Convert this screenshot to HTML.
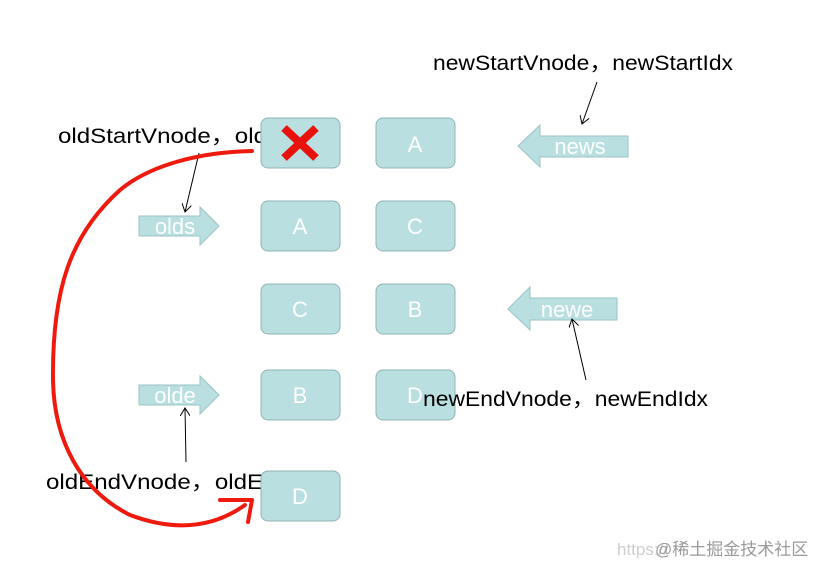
<!DOCTYPE html>
<html><head><meta charset="utf-8"><style>
html,body{margin:0;padding:0;background:#fff;width:814px;height:566px;overflow:hidden}
svg text{font-family:"Liberation Sans","Noto Sans CJK SC",sans-serif}
</style></head><body>
<svg width="814" height="566" viewBox="0 0 814 566" xmlns="http://www.w3.org/2000/svg">
<defs><marker id="a" markerWidth="10" markerHeight="10" refX="8" refY="5" orient="auto" markerUnits="userSpaceOnUse"><path d="M0,0 L8,5 L0,10" fill="none" stroke="#000" stroke-width="1"/></marker>
<clipPath id="c"><rect x="0" y="0" width="268" height="566"/></clipPath></defs>
<g font-size="21" fill="#000">
<text x="433" y="70" textLength="300" lengthAdjust="spacingAndGlyphs">newStartVnode，newStartIdx</text>
<g clip-path="url(#c)">
<text x="58" y="143" textLength="292" lengthAdjust="spacingAndGlyphs">oldStartVnode，oldStartIdx</text>
<text x="46" y="489" textLength="276" lengthAdjust="spacingAndGlyphs">oldEndVnode，oldEndIdx</text>
</g>
</g>
<g fill="#b9dfe1" stroke="#8fb3b5" stroke-width="1">
<rect x="261" y="118" width="79" height="50" rx="7"/>
<rect x="376" y="118" width="79" height="50" rx="7"/>
<rect x="261" y="201" width="79" height="50" rx="7"/>
<rect x="376" y="201" width="79" height="50" rx="7"/>
<rect x="261" y="284" width="79" height="50" rx="7"/>
<rect x="376" y="284" width="79" height="50" rx="7"/>
<rect x="261" y="370" width="79" height="50" rx="7"/>
<rect x="376" y="370" width="79" height="50" rx="7"/>
<rect x="261" y="471" width="79" height="50" rx="7"/>
</g>
<g fill="#b9dfe1" stroke="#9cc3c5" stroke-width="1">
<path d="M139,216 H200 V207 L219,226 L200,245 V236 H139 Z"/>
<path d="M139,385 H200 V376 L219,395 L200,414 V405 H139 Z"/>
<path d="M628,136 H540 V125 L518,146 L540,167 V157 H628 Z"/>
<path d="M617,298 H530 V287 L508,309 L530,330 V320 H617 Z"/>
</g>
<g fill="#fff" font-size="22" text-anchor="middle">
<text x="300" y="234">A</text><text x="415" y="152">A</text><text x="415" y="234">C</text>
<text x="300" y="317">C</text><text x="415" y="317">B</text><text x="300" y="403">B</text>
<text x="415" y="403">D</text><text x="300" y="504">D</text>
<text x="175" y="234">olds</text><text x="175" y="403">olde</text>
<text x="580" y="154">news</text><text x="567" y="317">newe</text>
</g>
<text x="423" y="406" font-size="21" fill="#000" textLength="285" lengthAdjust="spacingAndGlyphs">newEndVnode，newEndIdx</text>
<path d="M284,128 L316,158 M316,128 L284,158" stroke="#e8120c" stroke-width="8"/>
<g stroke="#000" stroke-width="1" fill="none">
<line x1="597" y1="82" x2="582" y2="124" marker-end="url(#a)"/>
<line x1="199" y1="153" x2="185" y2="212" marker-end="url(#a)"/>
<line x1="186" y1="462" x2="185" y2="408" marker-end="url(#a)"/>
<line x1="586" y1="380" x2="572" y2="319" marker-end="url(#a)"/>
</g>
<path d="M252,151 C200,152 150,165 120,190 C70,235 52,290 53,380 C54,440 80,490 130,515 C170,530 210,530 245,505 M220,500 L252,500 L248,522" fill="none" stroke="#ee1a0e" stroke-width="4" stroke-linecap="round" stroke-linejoin="round"/>
<text x="617" y="555" font-size="17" fill="#cfcfcf">https://</text>
<text x="655" y="555" font-size="17" fill="#9a9a9a">@稀土掘金技术社区</text>
</svg>
</body></html>
